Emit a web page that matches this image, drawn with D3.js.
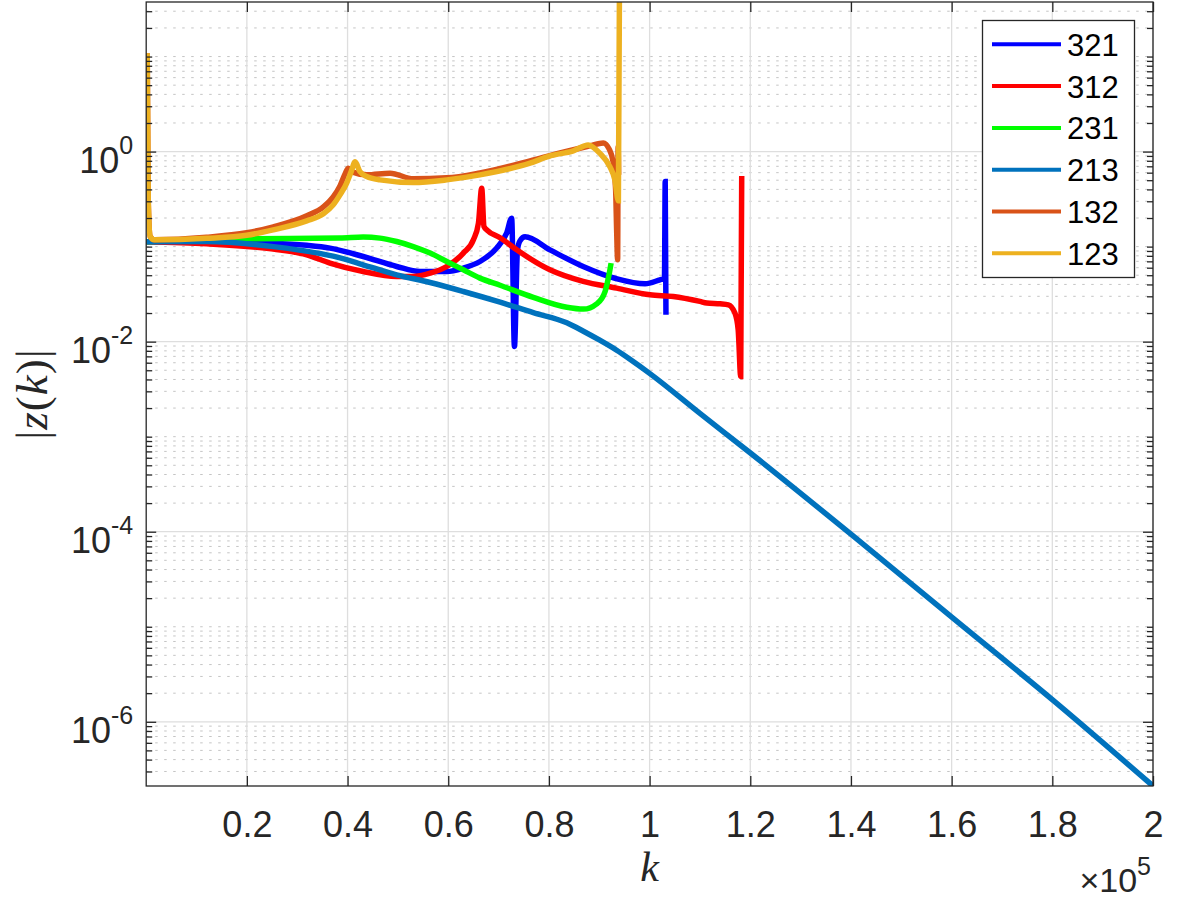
<!DOCTYPE html>
<html>
<head>
<meta charset="utf-8">
<script src="https://cdn.jsdelivr.net/npm/d3@7"></script>
<style>
  body { margin: 0; background: #fff; }
  svg { display: block; }
</style>
</head>
<body>
<svg id="chart" width="1178" height="902"></svg>
<script>
// ---- series: k values and |z(k)| values ----
const seriesNames  = ["321", "312", "231", "213", "132", "123"];
const seriesColors = ["#0000ff", "#ff0000", "#00ff00", "#0072bd", "#d95319", "#edb120"];

const k321 = [0, 12000, 25250, 31900, 36500, 43100, 49750, 54400, 59700, 63000, 66300, 69600, 71600, 72600, 73150, 73750, 74250, 75250, 80200, 86800, 93450, 99100, 102050, 102950, 103100, 103250];
const z321 = [0.1123, 0.1123, 0.1088, 0.1032, 0.0964, 0.0787, 0.0618, 0.0547, 0.0547, 0.0594, 0.0697, 0.0964, 0.1387, 0.1994, 0.0089, 0.0925, 0.115, 0.1268, 0.0925, 0.0618, 0.0459, 0.0406, 0.0448, 0.0464, 0.4835, 0.0192];

const k312 = [0, 12000, 25250, 31900, 36500, 43100, 49750, 53050, 56400, 59700, 63000, 65000, 66000, 66650, 67100, 67650, 70300, 73600, 80200, 86800, 93450, 100100, 104700, 110000, 111350, 114000, 115650, 116950, 117600, 118100, 118300];
const z312 = [0.1123, 0.107, 0.0941, 0.082, 0.0671, 0.0547, 0.0485, 0.0485, 0.0526, 0.0618, 0.0855, 0.1179, 0.1767, 0.4122, 0.1627, 0.1502, 0.1238, 0.0925, 0.057, 0.043, 0.0366, 0.0311, 0.0299, 0.0265, 0.0255, 0.025, 0.0244, 0.02, 0.0133, 0.00431, 0.555];

const k231 = [0, 12000, 18650, 38500, 43100, 46450, 49750, 53050, 56400, 59700, 63000, 66300, 70300, 76900, 83550, 86850, 89500, 91150, 92000, 92350];
const z231 = [0.1123, 0.118, 0.1208, 0.1229, 0.1259, 0.1229, 0.1132, 0.1002, 0.0855, 0.0697, 0.057, 0.0466, 0.0392, 0.0293, 0.023, 0.022, 0.025, 0.0337, 0.0526, 0.0671];

const k213 = [0, 12000, 25250, 38500, 43100, 49750, 56400, 63000, 70300, 76900, 83550, 86850, 90100, 93450, 96100, 100000, 110000, 120150, 140300, 160450, 180650, 200000];
const z213 = [0.1123, 0.113, 0.1, 0.0762, 0.0644, 0.0505, 0.0419, 0.0337, 0.026, 0.0202, 0.0158, 0.01287, 0.01035, 0.00812, 0.00653, 0.00464, 0.00176, 6.65e-4, 9.14e-5, 1.21e-5, 1.6e-6, 2.11e-7];

const k132 = [200, 400, 800, 1600, 12000, 19950, 25250, 31900, 35200, 37150, 38500, 39500, 40150, 40900, 43800, 48450, 53050, 59700, 66300, 76250, 82200, 88150, 90800, 91950, 92750, 93250, 93450, 93650, 93750, 93850];
const z132 = [10.83, 0.3105, 0.1277, 0.1179, 0.1253, 0.1397, 0.1615, 0.2108, 0.2621, 0.334, 0.4359, 0.5826, 0.669, 0.6116, 0.5688, 0.5927, 0.5163, 0.529, 0.597, 0.7983, 0.969, 1.148, 1.234, 1.068, 0.7794, 0.3957, 0.1502, 0.0726, 1.121, 0.5688];

const k123 = [200, 400, 800, 1600, 12000, 19950, 25250, 31900, 35200, 37150, 38500, 39850, 40700, 41500, 42450, 43800, 46450, 53050, 59700, 66300, 76250, 80200, 84850, 87800, 90100, 92100, 93100, 93800, 94000];
const z123 = [10.83, 0.3105, 0.1277, 0.1179, 0.1223, 0.1315, 0.1502, 0.1867, 0.2213, 0.2751, 0.3505, 0.4685, 0.6116, 0.7794, 0.6162, 0.546, 0.5039, 0.4721, 0.5039, 0.5688, 0.7551, 0.9011, 1.017, 1.176, 0.962, 0.6954, 0.5039, 0.3031, 37.5];

// ---- axis ticks and labels ----
const xTicks = [20000, 40000, 60000, 80000, 100000, 120000, 140000, 160000, 180000, 200000];
const xTickLabels = ["0.2", "0.4", "0.6", "0.8", "1", "1.2", "1.4", "1.6", "1.8", "2"];
const yTicks = [1, 1e-2, 1e-4, 1e-6];
const yTickExponents = ["0", "-2", "-4", "-6"];

// ---- layout ----
const plot = { left: 146.2, right: 1153, top: 2, bottom: 786 };
const axisColor = "#262626";
const sansFont = "'Liberation Sans', Arial, Helvetica, sans-serif";
const serifFont = "'Liberation Serif', 'Times New Roman', serif";

const svg = d3.select("#chart");

const kArrays = [k321, k312, k231, k213, k132, k123];
const zArrays = [z321, z312, z231, z213, z132, z123];
const series = seriesNames.map((name, i) => ({
  name,
  color: seriesColors[i],
  points: kArrays[i].map((k, j) => [k, zArrays[i][j]])
}));

const x = d3.scaleLinear().domain([0, 200000]).range([plot.left, plot.right]);
const y = d3.scaleLog().domain(d3.extent(zArrays.flat())).range([plot.bottom, plot.top]);

// minor log positions (2..9 per decade and the odd decades)
const [yLo, yHi] = y.domain();
const yMinor = [];
for (let e = Math.floor(Math.log10(yLo)); e <= Math.ceil(Math.log10(yHi)); e++) {
  for (let m = 1; m <= 9; m++) {
    const v = m * Math.pow(10, e);
    if (v < yLo || v > yHi) continue;
    if (yTicks.some(t => Math.abs(Math.log10(t) - Math.log10(v)) < 1e-9)) continue;
    yMinor.push(v);
  }
}

// ---- grid ----
const grid = svg.append("g");
grid.selectAll("line.ymin").data(yMinor).join("line")
  .attr("x1", plot.left).attr("x2", plot.right)
  .attr("y1", d => y(d)).attr("y2", d => y(d))
  .attr("stroke", "#c4c4c4").attr("stroke-width", 1)
  .attr("stroke-dasharray", "2.5,6.5");
grid.selectAll("line.ymaj").data(yTicks).join("line")
  .attr("x1", plot.left).attr("x2", plot.right)
  .attr("y1", d => y(d)).attr("y2", d => y(d))
  .attr("stroke", "#dedede").attr("stroke-width", 1.3);
grid.selectAll("line.xmaj").data(xTicks).join("line")
  .attr("x1", d => x(d)).attr("x2", d => x(d))
  .attr("y1", plot.top).attr("y2", plot.bottom)
  .attr("stroke", "#dedede").attr("stroke-width", 1.3);

// ---- lines ----
svg.append("clipPath").attr("id", "plotClip")
  .append("rect")
  .attr("x", plot.left).attr("y", plot.top)
  .attr("width", plot.right - plot.left).attr("height", plot.bottom - plot.top);

const line = d3.line().curve(d3.curveMonotoneX).x(d => x(d[0])).y(d => y(d[1]));
svg.append("g").attr("clip-path", "url(#plotClip)")
  .selectAll("path").data(series).join("path")
  .attr("d", d => line(d.points))
  .attr("fill", "none")
  .attr("stroke", d => d.color)
  .attr("stroke-width", 5.5)
  .attr("stroke-linejoin", "miter")
  .attr("stroke-miterlimit", 3)
  .attr("stroke-linecap", "butt");

// ---- axes (ticks point inward on all four sides) ----
function styleAxis(g) {
  g.select(".domain").remove();
  g.selectAll(".tick line").attr("stroke", axisColor).attr("stroke-width", 1.3);
  g.selectAll("text").attr("fill", axisColor).style("font-family", sansFont);
}

const xAxis = svg.append("g")
  .attr("transform", `translate(0,${plot.bottom})`)
  .call(d3.axisBottom(x).tickValues(xTicks).tickSizeInner(-10).tickSizeOuter(0)
    .tickFormat((d, i) => xTickLabels[i]))
  .call(styleAxis);
xAxis.selectAll("text")
  .attr("y", 51).attr("dy", 0)
  .style("font-size", "36px");

svg.append("g")
  .attr("transform", `translate(0,${plot.top})`)
  .call(d3.axisTop(x).tickValues(xTicks).tickSizeInner(-10).tickSizeOuter(0).tickFormat(""))
  .call(styleAxis);

const yAxis = svg.append("g")
  .attr("transform", `translate(${plot.left},0)`)
  .call(d3.axisLeft(y).tickValues(yTicks).tickSizeInner(-10).tickSizeOuter(0).tickFormat(""))
  .call(styleAxis);
yAxis.selectAll(".tick").each(function(d, i) {
  const t = d3.select(this).append("text")
    .attr("x", -13).attr("y", 21)
    .attr("text-anchor", "end")
    .attr("fill", axisColor)
    .style("font-family", sansFont)
    .style("font-size", "36px");
  t.append("tspan").text("10");
  t.append("tspan").attr("dy", -19).style("font-size", "25px").text(yTickExponents[i]);
});

svg.append("g")
  .attr("transform", `translate(${plot.left},0)`)
  .call(d3.axisLeft(y).tickValues(yMinor).tickSizeInner(-6).tickSizeOuter(0).tickFormat(""))
  .call(styleAxis);

svg.append("g")
  .attr("transform", `translate(${plot.right},0)`)
  .call(d3.axisRight(y).tickValues(yTicks).tickSizeInner(-10).tickSizeOuter(0).tickFormat(""))
  .call(styleAxis);
svg.append("g")
  .attr("transform", `translate(${plot.right},0)`)
  .call(d3.axisRight(y).tickValues(yMinor).tickSizeInner(-6).tickSizeOuter(0).tickFormat(""))
  .call(styleAxis);

// plot box
svg.append("rect")
  .attr("x", plot.left).attr("y", plot.top)
  .attr("width", plot.right - plot.left).attr("height", plot.bottom - plot.top)
  .attr("fill", "none").attr("stroke", axisColor).attr("stroke-width", 1.3);

// ---- axis labels ----
svg.append("text")
  .attr("x", (plot.left + plot.right) / 2).attr("y", 881)
  .attr("text-anchor", "middle")
  .style("font-family", serifFont).style("font-style", "italic").style("font-size", "42px")
  .attr("fill", axisColor)
  .text("k");

const yl = svg.append("text")
  .attr("transform", `translate(47,${(plot.top + plot.bottom) / 2}) rotate(-90)`)
  .attr("text-anchor", "middle")
  .style("font-family", serifFont).style("font-size", "45px")
  .style("letter-spacing", "1px")
  .attr("fill", axisColor);
yl.append("tspan").text("|");
yl.append("tspan").style("font-style", "italic").text("z");
yl.append("tspan").text("(");
yl.append("tspan").style("font-style", "italic").text("k");
yl.append("tspan").text(")|");

// x exponent marker
const xm = svg.append("text")
  .attr("x", 1151).attr("y", 892)
  .attr("text-anchor", "end")
  .attr("fill", axisColor)
  .style("font-family", sansFont).style("font-size", "34px");
xm.append("tspan").text("\u00d710");
xm.append("tspan").attr("dy", -17).style("font-size", "25px").text("5");

// ---- legend ----
const legend = svg.append("g");
legend.append("rect")
  .attr("x", 982.5).attr("y", 20.5).attr("width", 152).attr("height", 257)
  .attr("fill", "#fff").attr("stroke", axisColor).attr("stroke-width", 1.3);
const rows = legend.selectAll("g.row").data(series).join("g")
  .attr("transform", (d, i) => `translate(0,${44.3 + i * 41.8})`);
rows.append("line")
  .attr("x1", 992).attr("x2", 1061).attr("y1", 0).attr("y2", 0)
  .attr("stroke", d => d.color).attr("stroke-width", 4);
rows.append("text")
  .attr("x", 1067).attr("y", 11.5)
  .style("font-family", sansFont).style("font-size", "31px")
  .attr("fill", "#000")
  .text(d => d.name);
</script>
</body>
</html>
